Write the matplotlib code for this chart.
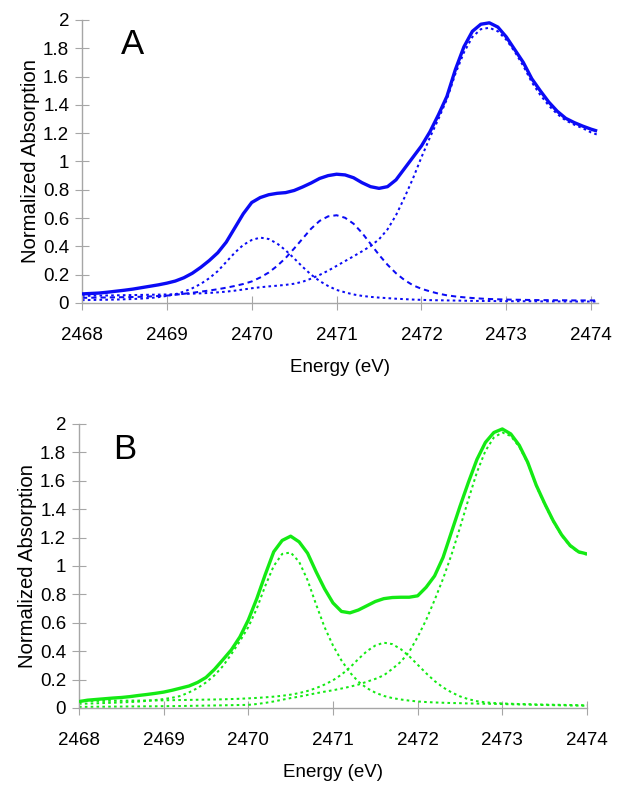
#!/usr/bin/env python3
"""
Sulfur K-edge XANES, two samples (A blue, B green): measured spectrum (thick
solid) with the fitted pre-edge / edge components (thin dashed / dotted).
Writes out.png (622x790).
"""
import numpy as np
import matplotlib
matplotlib.use('Agg')
import matplotlib.pyplot as plt

plt.rcParams['font.family'] = ['Liberation Sans', 'DejaVu Sans']

# ---- data (0.1 eV grid) -----------------------------------------------------
energy_a = np.append(np.round(np.arange(2468.0, 2474.01, 0.1), 1), 2474.07)
energy_b = np.round(np.arange(2468.0, 2474.01, 0.1), 1)

total_a = [0.064, 0.067, 0.070, 0.076, 0.083, 0.090, 0.098, 0.108, 0.118, 0.128,
           0.140, 0.155, 0.178, 0.210, 0.252, 0.300, 0.355, 0.430, 0.530, 0.630,
           0.710, 0.745, 0.765, 0.775, 0.780, 0.795, 0.820, 0.848, 0.880, 0.900,
           0.910, 0.905, 0.885, 0.850, 0.822, 0.810, 0.822, 0.870, 0.950, 1.030,
           1.110, 1.210, 1.330, 1.460, 1.650, 1.810, 1.920, 1.970, 1.980, 1.950,
           1.880, 1.790, 1.700, 1.585, 1.500, 1.420, 1.355, 1.305, 1.275, 1.250,
           1.228, 1.215]
peak1_a = [0.020, 0.021, 0.022, 0.023, 0.024, 0.026, 0.028, 0.031, 0.035, 0.041,
           0.050, 0.062, 0.080, 0.104, 0.135, 0.175, 0.225, 0.290, 0.355, 0.410,
           0.445, 0.462, 0.452, 0.420, 0.372, 0.315, 0.255, 0.200, 0.155, 0.120,
           0.092, 0.075, 0.060, 0.050, 0.043, 0.038, 0.034, 0.030, 0.027, 0.024,
           0.022, 0.020, 0.019, 0.018, 0.017, 0.016, 0.015, 0.014, 0.014, 0.013,
           0.013, 0.012, 0.012, 0.012, 0.011, 0.011, 0.011, 0.010, 0.010, 0.010,
           0.010, 0.010]
peak2_a = [0.036, 0.037, 0.038, 0.039, 0.040, 0.041, 0.042, 0.044, 0.046, 0.049,
           0.052, 0.058, 0.065, 0.072, 0.080, 0.088, 0.097, 0.108, 0.120, 0.134,
           0.152, 0.180, 0.215, 0.262, 0.318, 0.385, 0.455, 0.525, 0.580, 0.612,
           0.620, 0.602, 0.560, 0.495, 0.418, 0.340, 0.270, 0.210, 0.162, 0.125,
           0.100, 0.082, 0.066, 0.054, 0.046, 0.040, 0.035, 0.031, 0.028, 0.026,
           0.024, 0.023, 0.022, 0.021, 0.020, 0.020, 0.019, 0.019, 0.018, 0.018,
           0.018, 0.018]
peak3_a = [0.050, 0.051, 0.052, 0.053, 0.054, 0.055, 0.056, 0.057, 0.058, 0.059,
           0.060, 0.062, 0.064, 0.066, 0.068, 0.071, 0.075, 0.080, 0.087, 0.095,
           0.104, 0.111, 0.117, 0.122, 0.128, 0.136, 0.150, 0.172, 0.198, 0.228,
           0.262, 0.296, 0.330, 0.365, 0.402, 0.450, 0.520, 0.620, 0.745, 0.880,
           1.030, 1.170, 1.300, 1.440, 1.620, 1.770, 1.880, 1.935, 1.945, 1.920,
           1.860, 1.775, 1.675, 1.560, 1.470, 1.395, 1.335, 1.290, 1.260, 1.235,
           1.205, 1.190]

total_b = [0.045, 0.055, 0.060, 0.065, 0.070, 0.074, 0.080, 0.088, 0.095, 0.103,
           0.112, 0.125, 0.140, 0.155, 0.180, 0.215, 0.272, 0.340, 0.410, 0.500,
           0.620, 0.770, 0.940, 1.100, 1.180, 1.210, 1.170, 1.090, 0.960, 0.840,
           0.740, 0.680, 0.670, 0.690, 0.720, 0.750, 0.770, 0.778, 0.780, 0.780,
           0.790, 0.850, 0.930, 1.060, 1.240, 1.420, 1.590, 1.750, 1.870, 1.940,
           1.965, 1.930, 1.850, 1.730, 1.570, 1.440, 1.320, 1.220, 1.145, 1.100,
           1.085]
peak1_b = [0.030, 0.031, 0.033, 0.035, 0.037, 0.039, 0.042, 0.045, 0.050, 0.056,
           0.063, 0.072, 0.085, 0.110, 0.140, 0.180, 0.230, 0.295, 0.380, 0.470,
           0.570, 0.700, 0.860, 1.000, 1.085, 1.095, 1.030, 0.900, 0.730, 0.570,
           0.440, 0.335, 0.250, 0.185, 0.140, 0.108, 0.085, 0.070, 0.060, 0.052,
           0.046, 0.042, 0.039, 0.037, 0.035, 0.034, 0.032, 0.031, 0.030, 0.029,
           0.028, 0.026, 0.025, 0.024, 0.022, 0.021, 0.020, 0.019, 0.018, 0.017,
           0.016]
peak2_b = [0.050, 0.050, 0.050, 0.050, 0.051, 0.051, 0.052, 0.052, 0.053, 0.053,
           0.054, 0.055, 0.056, 0.057, 0.058, 0.059, 0.060, 0.061, 0.063, 0.065,
           0.068, 0.071, 0.075, 0.080, 0.086, 0.094, 0.105, 0.120, 0.140, 0.165,
           0.195, 0.235, 0.285, 0.345, 0.400, 0.440, 0.460, 0.450, 0.415, 0.365,
           0.305, 0.245, 0.190, 0.145, 0.110, 0.082, 0.062, 0.048, 0.040, 0.035,
           0.032, 0.030, 0.028, 0.027, 0.025, 0.024, 0.023, 0.022, 0.021, 0.020,
           0.019]
peak3_b = [0.008, 0.008, 0.009, 0.009, 0.010, 0.010, 0.011, 0.011, 0.012, 0.012,
           0.013, 0.013, 0.014, 0.015, 0.016, 0.017, 0.018, 0.019, 0.020, 0.021,
           0.022, 0.028, 0.036, 0.046, 0.058, 0.070, 0.080, 0.092, 0.104, 0.115,
           0.125, 0.137, 0.150, 0.165, 0.185, 0.205, 0.230, 0.275, 0.325, 0.395,
           0.500, 0.620, 0.760, 0.910, 1.080, 1.270, 1.470, 1.660, 1.810, 1.905,
           1.940, 1.915, 1.840, 1.725, 1.565, 1.435, 1.315, 1.215, 1.140, 1.095,
           1.080]

x_ticks = [2468, 2469, 2470, 2471, 2472, 2473, 2474]
y_ticks = [0, 0.2, 0.4, 0.6, 0.8, 1.0, 1.2, 1.4, 1.6, 1.8, 2.0]
y_tick_labels = ['0', '0.2', '0.4', '0.6', '0.8', '1', '1.2', '1.4', '1.6', '1.8', '2']

BLUE = '#0b0bf5'
GREEN = '#14ea14'
AXIS_GREY = '#a6a6a6'
FS = 13.5

DOT = (1.3, 1.6)
DASH = (2.6, 2.0)


def draw_panel(ax, energy, total, comps, color, letter, xmax, letter_xy):
    for vals, dashes in comps:
        ax.plot(energy, vals, color=color, lw=1.45, dashes=dashes, zorder=2)
    ax.plot(energy, total, color=color, lw=2.4, solid_capstyle='butt', zorder=3)

    ax.set_xlim(2468, xmax)
    ax.set_ylim(0, 2)
    ax.set_xticks(x_ticks)
    ax.set_xticklabels([str(t) for t in x_ticks])
    ax.set_yticks(y_ticks)
    ax.set_yticklabels(y_tick_labels)
    for side in ('top', 'right'):
        ax.spines[side].set_visible(False)
    for side in ('left', 'bottom'):
        ax.spines[side].set_color(AXIS_GREY)
        ax.spines[side].set_linewidth(1.0)
    ax.tick_params(direction='inout', length=10.5, width=0.8, color=AXIS_GREY,
                   labelsize=FS, labelcolor='black')
    ax.tick_params(axis='x', pad=12)
    ax.tick_params(axis='y', pad=4)
    ax.set_xlabel('Energy (eV)', fontsize=FS, labelpad=11)
    ax.set_ylabel('Normalized Absorption', fontsize=14.6, labelpad=2)
    ax.text(letter_xy[0], letter_xy[1], letter, fontsize=25,
            ha='center', va='center')


fig = plt.figure(figsize=(6.22, 7.9), dpi=100)
ax_a = fig.add_axes([0.1318, 0.6165, 0.8296, 0.3582])
ax_b = fig.add_axes([0.1270, 0.1038, 0.8167, 0.3595])

draw_panel(ax_a, energy_a, total_a,
           [(peak1_a, DOT), (peak2_a, DASH), (peak3_a, DOT)],
           BLUE, 'A', 2474.08, (2468.59, 1.83))
draw_panel(ax_b, energy_b, total_b,
           [(peak1_b, DOT), (peak2_b, DOT), (peak3_b, DOT)],
           GREEN, 'B', 2474.0, (2468.54, 1.82))

fig.savefig('out.png', dpi=100)
